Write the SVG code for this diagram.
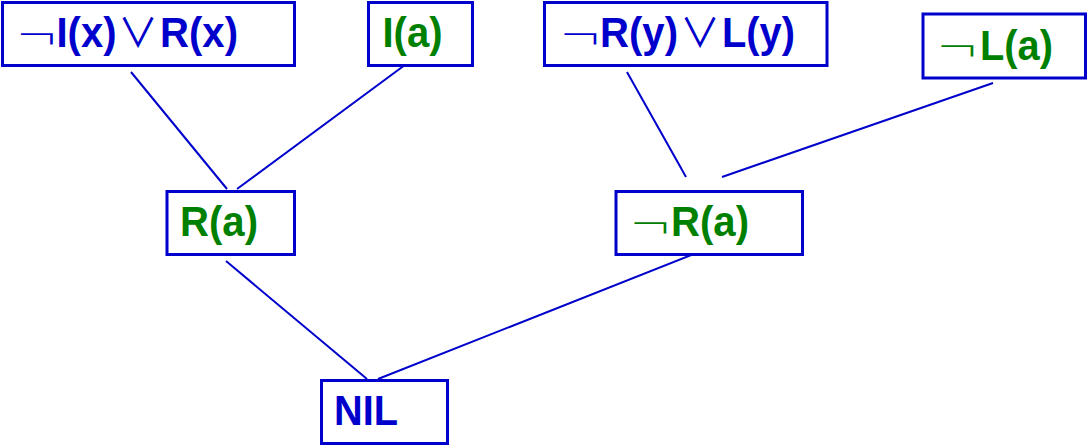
<svg xmlns="http://www.w3.org/2000/svg" width="1089" height="447" viewBox="0 0 1089 447">
<style>
.box{fill:#ffffff;stroke:#0000cc;stroke-width:3}
.lbl{font-family:"Liberation Sans",Arial,sans-serif;font-weight:bold;font-size:43px}
.neg{font-family:"DejaVu Sans",sans-serif;font-weight:200;font-size:44px}
.or{font-family:"Noto Sans CJK JP","DejaVu Sans",sans-serif;font-weight:normal;font-size:40px}
.blue{fill:#0000cc}
.green{fill:#008000}
.edge{stroke:#0000cc;stroke-width:2;fill:none}
</style>
<rect width="1089" height="447" fill="#ffffff"/>
<g id="connectors">
<line class="edge" x1="131" y1="72" x2="227" y2="189"/>
<line class="edge" x1="413" y1="59" x2="237" y2="189"/>
<line class="edge" x1="627" y1="72" x2="686" y2="177"/>
<line class="edge" x1="993" y1="83" x2="722" y2="177"/>
<line class="edge" x1="226" y1="261" x2="367" y2="379"/>
<line class="edge" x1="709" y1="248" x2="378" y2="379"/>
</g>
<g id="n1">
<rect class="box" x="2.5" y="2.5" width="292" height="63"/>
<text class="neg blue" transform="translate(15.5,51) scale(1.18,1)">¬</text>
<text class="lbl blue" x="56.5" y="47" textLength="60" lengthAdjust="spacingAndGlyphs">I(x)</text>
<text class="or blue" x="118" y="47">∨</text>
<text class="lbl blue" x="160" y="47" textLength="78" lengthAdjust="spacingAndGlyphs">R(x)</text>
</g>
<g id="n2">
<rect class="box" x="368.5" y="2.5" width="104" height="63"/>
<text class="lbl green" x="382.5" y="47" textLength="60" lengthAdjust="spacingAndGlyphs">I(a)</text>
</g>
<g id="n3">
<rect class="box" x="544.5" y="2.5" width="282.5" height="63"/>
<text class="neg blue" transform="translate(559,51) scale(1.18,1)">¬</text>
<text class="lbl blue" x="600" y="47" textLength="78" lengthAdjust="spacingAndGlyphs">R(y)</text>
<text class="or blue" x="680" y="47">∨</text>
<text class="lbl blue" x="722" y="47" textLength="73" lengthAdjust="spacingAndGlyphs">L(y)</text>
</g>
<g id="n4">
<rect class="box" x="923" y="14" width="162.5" height="64"/>
<text class="neg green" transform="translate(936,63) scale(1.18,1)">¬</text>
<text class="lbl green" x="980" y="60" textLength="73" lengthAdjust="spacingAndGlyphs">L(a)</text>
</g>
<g id="n5">
<rect class="box" x="167" y="191.5" width="127.5" height="63"/>
<text class="lbl green" x="180" y="236" textLength="78" lengthAdjust="spacingAndGlyphs">R(a)</text>
</g>
<g id="n6">
<rect class="box" x="616" y="191.5" width="186.5" height="63"/>
<text class="neg green" transform="translate(629,240) scale(1.18,1)">¬</text>
<text class="lbl green" x="671" y="236" textLength="78" lengthAdjust="spacingAndGlyphs">R(a)</text>
</g>
<g id="n7">
<rect class="box" x="321.5" y="380.5" width="126" height="63"/>
<text class="lbl blue" x="334" y="425" textLength="64" lengthAdjust="spacingAndGlyphs">NIL</text>
</g>
</svg>
